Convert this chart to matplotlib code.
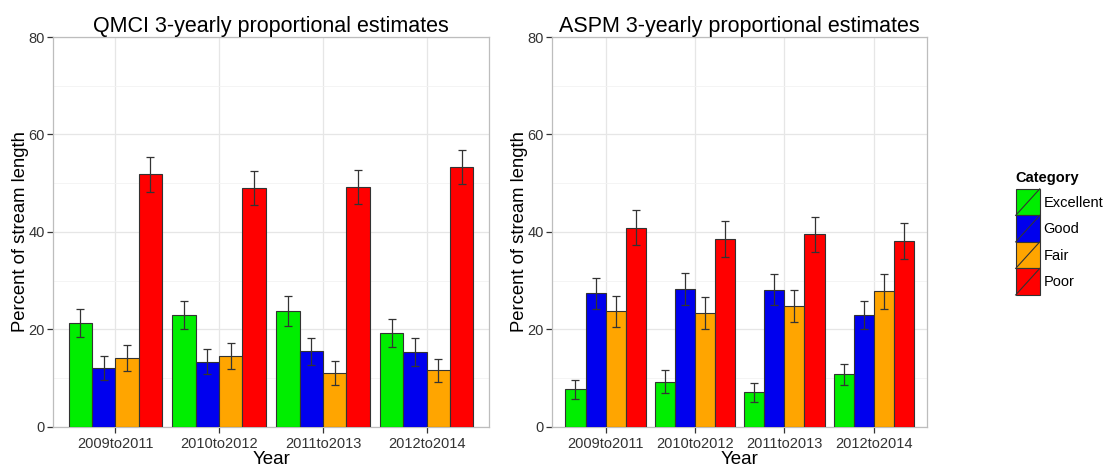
import numpy as np
import matplotlib
matplotlib.use("Agg")
import matplotlib.pyplot as plt
from matplotlib.patches import Patch, Rectangle
from matplotlib.lines import Line2D
from matplotlib.legend_handler import HandlerPatch

years = ["2009to2011", "2010to2012", "2011to2013", "2012to2014"]
categories = ["Excellent", "Good", "Fair", "Poor"]
colors = ["#00ee00", "#0000ee", "#ffa500", "#ff0000"]

qmci_excellent = [21.4, 22.9, 23.8, 19.3]
qmci_good = [12.1, 13.4, 15.5, 15.4]
qmci_fair = [14.2, 14.5, 11.1, 11.6]
qmci_poor = [51.8, 49.0, 49.2, 53.3]
qmci_err_excellent = [2.9, 2.9, 3.0, 2.8]
qmci_err_good = [2.5, 2.6, 2.8, 2.9]
qmci_err_fair = [2.7, 2.7, 2.5, 2.3]
qmci_err_poor = [3.6, 3.5, 3.5, 3.5]

aspm_excellent = [7.7, 9.3, 7.1, 10.8]
aspm_good = [27.4, 28.3, 28.2, 22.9]
aspm_fair = [23.7, 23.4, 24.9, 27.8]
aspm_poor = [40.9, 38.6, 39.5, 38.2]
aspm_err_excellent = [1.9, 2.3, 1.9, 2.2]
aspm_err_good = [3.2, 3.2, 3.2, 2.9]
aspm_err_fair = [3.2, 3.2, 3.3, 3.5]
aspm_err_poor = [3.6, 3.7, 3.6, 3.7]

plt.rcParams['font.family'] = ['Liberation Sans', 'DejaVu Sans']

fig = plt.figure(figsize=(11.04, 4.69), dpi=100)
ax1 = fig.add_axes([0.048, 0.0896, 0.395, 0.8315])
ax2 = fig.add_axes([0.500, 0.0896, 0.340, 0.8315])

def draw(ax, title, vals, errs):
    x = np.arange(1, len(years) + 1)
    n = len(categories)
    bw = 0.9 / n
    for i in range(n):
        pos = x - 0.45 + bw * (i + 0.5)
        ax.bar(pos, vals[i], width=bw, color=colors[i], edgecolor='#333333',
               linewidth=0.8, zorder=3)
        ax.errorbar(pos, vals[i], yerr=errs[i], fmt='none', ecolor='#333333',
                    elinewidth=0.9, capsize=2.6, capthick=0.9, zorder=4)
    ax.set_xlim(0.4, len(years) + 0.6)
    ax.set_ylim(0, 80)
    ax.set_xticks(x)
    ax.set_xticklabels(years)
    ax.set_yticks([0, 20, 40, 60, 80])
    ax.set_yticks([10, 30, 50, 70], minor=True)
    ax.grid(True, which='major', color='#e6e6e6', linewidth=0.9, zorder=0)
    ax.grid(True, which='minor', axis='y', color='#f2f2f2', linewidth=0.6, zorder=0)
    ax.set_axisbelow(True)
    for s in ax.spines.values():
        s.set_color('#bdbdbd')
        s.set_linewidth(0.9)
    ax.tick_params(axis='both', which='major', colors='#333333', labelsize=10.5,
                   length=4, width=0.9, labelcolor='#333333')
    ax.tick_params(axis='x', pad=3)
    ax.tick_params(axis='y', pad=2)
    ax.tick_params(which='minor', length=0)
    ax.set_title(title, fontsize=15.5, pad=2.5)
    ax.set_xlabel("Year", fontsize=13.5, labelpad=0.5)
    ax.set_ylabel("Percent of stream length", fontsize=13.3, labelpad=-0.5)

draw(ax1, "QMCI 3-yearly proportional estimates",
     [qmci_excellent, qmci_good, qmci_fair, qmci_poor],
     [qmci_err_excellent, qmci_err_good, qmci_err_fair, qmci_err_poor])
draw(ax2, "ASPM 3-yearly proportional estimates",
     [aspm_excellent, aspm_good, aspm_fair, aspm_poor],
     [aspm_err_excellent, aspm_err_good, aspm_err_fair, aspm_err_poor])


class SlashHandler(HandlerPatch):
    def create_artists(self, legend, orig_handle, xdescent, ydescent,
                       width, height, fontsize, trans):
        r = Rectangle((-xdescent, -ydescent), width, height,
                      facecolor=orig_handle.get_facecolor(),
                      edgecolor='#333333', linewidth=0.8, transform=trans)
        l = Line2D([-xdescent, -xdescent + width], [-ydescent, -ydescent + height],
                   color='#333333', linewidth=0.8, transform=trans)
        return [r, l]

handles = [Patch(facecolor=c) for c in colors]
leg = fig.legend(handles, categories, title="Category",
                 loc='upper left', bbox_to_anchor=(0.920, 0.636),
                 frameon=False, fontsize=10.5, title_fontsize=10.5,
                 handler_map={Patch: SlashHandler()},
                 handlelength=1.65, handleheight=2.42, labelspacing=0.0,
                 handletextpad=0.25, borderaxespad=0, borderpad=0)
leg.get_title().set_fontweight('bold')
leg._legend_box.align = "left"
leg._legend_box.sep = 3

fig.savefig("out.png", dpi=100)
